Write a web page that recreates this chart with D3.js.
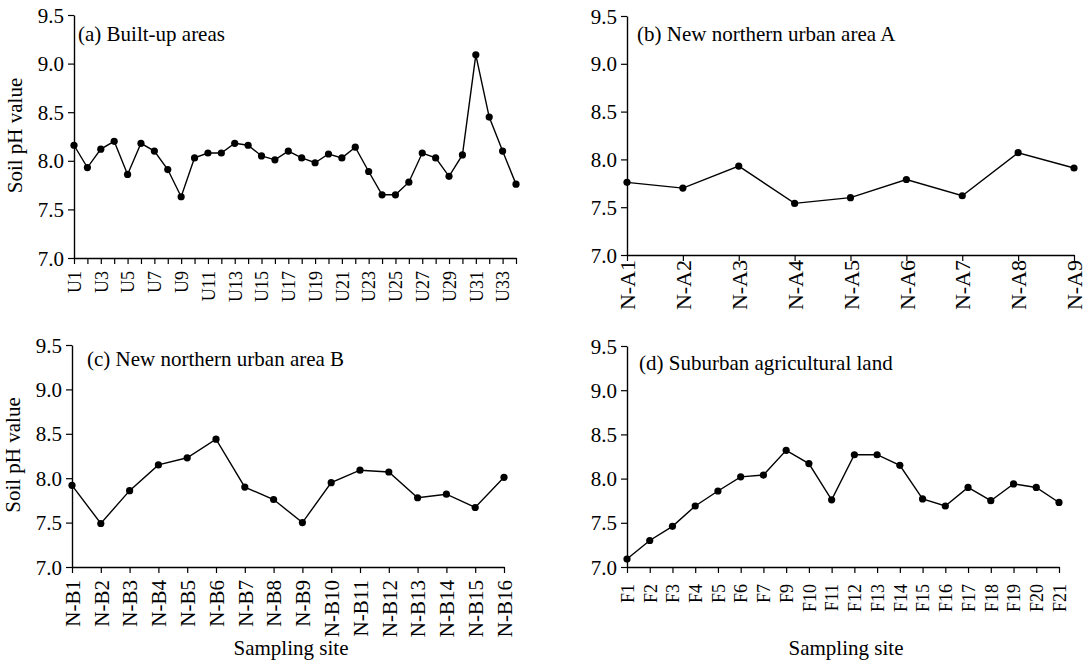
<!DOCTYPE html>
<html>
<head>
<meta charset="utf-8">
<script src="https://cdn.jsdelivr.net/npm/d3@7"></script>
<style>
  body { margin: 0; background: #fff; }
  svg { display: block; }
</style>
</head>
<body>
<svg id="chart" width="1086" height="664"></svg>
<script>
// soil pH by sampling site, four land-use groups
const builtSites = ["U1","U2","U3","U4","U5","U6","U7","U8","U9","U10","U11","U12","U13","U14","U15","U16","U17",
    "U18","U19","U20","U21","U22","U23","U24","U25","U26","U27","U28","U29","U30","U31","U32","U33","U34"];
const builtPH = [8.16,7.93,8.12,8.20,7.86,8.18,8.10,7.91,7.63,8.03,8.08,8.08,8.18,8.16,8.05,8.01,8.10,
    8.03,7.98,8.07,8.03,8.14,7.89,7.65,7.65,7.78,8.08,8.03,7.84,8.06,9.09,8.45,8.10,7.76];

const northASites = ["N-A1","N-A2","N-A3","N-A4","N-A5","N-A6","N-A7","N-A8","N-A9"];
const northAPH = [7.76,7.70,7.93,7.54,7.60,7.79,7.62,8.07,7.91];

const northBSites = ["N-B1","N-B2","N-B3","N-B4","N-B5","N-B6","N-B7","N-B8","N-B9","N-B10","N-B11",
    "N-B12","N-B13","N-B14","N-B15","N-B16"];
const northBPH = [7.92,7.49,7.86,8.15,8.23,8.44,7.90,7.76,7.50,7.95,8.09,8.07,7.78,7.82,7.67,8.01];

const farmSites = ["F1","F2","F3","F4","F5","F6","F7","F9","F10","F11","F12","F13","F14","F15","F16",
    "F17","F18","F19","F20","F21"];
const farmPH = [7.09,7.30,7.46,7.69,7.86,8.02,8.04,8.32,8.17,7.76,8.27,8.27,8.15,7.77,7.69,7.90,7.75,
    7.94,7.90,7.73];

const yTicks = [7.0, 7.5, 8.0, 8.5, 9.0, 9.5];

const FONT = "'Liberation Serif', 'Times New Roman', serif";
const svg = d3.select("#chart");

// layout per panel (pixel boxes)
let panels = [
    { title: "(a) Built-up areas", sites: builtSites, ph: builtPH,
      x0: 74, x1: 516, y0: 15, y1: 258, tx: 78, ty: 41, xFont: 18, xGap: 13, every: 2,
      yLabel: true, xLabel: false },
    { title: "(b) New northern urban area A", sites: northASites, ph: northAPH,
      x0: 627, x1: 1074, y0: 16, y1: 255, tx: 637, ty: 41, xFont: 22, xGap: 5, every: 1,
      yLabel: false, xLabel: false },
    { title: "(c) New northern urban area B", sites: northBSites, ph: northBPH,
      x0: 72, x1: 504, y0: 345, y1: 567, tx: 87, ty: 366, xFont: 21, xGap: 13, every: 1,
      yLabel: true, xLabel: true },
    { title: "(d) Suburban agricultural land", sites: farmSites, ph: farmPH,
      x0: 627, x1: 1059, y0: 346, y1: 567, tx: 639, ty: 370, xFont: 18, xGap: 17, every: 1,
      yLabel: false, xLabel: true }
];

panels.forEach(function(p) {
    let g = svg.append("g");
    let x = d3.scalePoint().domain(p.sites).range([p.x0, p.x1]).padding(0);
    let y = d3.scaleLinear().domain([7.0, 9.5]).range([p.y1, p.y0]);

    // y axis
    let yAxis = g.append("g")
        .attr("transform", "translate(" + p.x0 + ",0)")
        .call(d3.axisLeft(y).tickValues(yTicks).tickFormat(d3.format(".1f")).tickSize(6).tickSizeOuter(0));
    yAxis.selectAll("text")
        .attr("x", -10).attr("dy", "0.34em")
        .style("font-family", FONT).style("font-size", "21px").attr("fill", "#000");

    // x axis
    let xAxis = g.append("g")
        .attr("transform", "translate(0," + p.y1 + ")")
        .call(d3.axisBottom(x).tickSize(6).tickSizeOuter(0)
            .tickFormat((d, i) => i % p.every === 0 ? d : ""));
    xAxis.selectAll("text")
        .attr("x", 0).attr("y", 0).attr("dy", "0.35em")
        .attr("text-anchor", "end")
        .attr("transform", "translate(0," + p.xGap + ") rotate(-90)")
        .style("font-family", FONT).style("font-size", p.xFont + "px").attr("fill", "#000");

    g.selectAll(".domain").attr("stroke", "#000").attr("stroke-width", 1.4);
    g.selectAll(".tick line").attr("stroke", "#000").attr("stroke-width", 1.2);

    // line + dots
    let line = d3.line()
        .x((d, i) => x(p.sites[i]))
        .y(d => y(d));
    g.append("path")
        .datum(p.ph)
        .attr("d", line)
        .attr("fill", "none")
        .attr("stroke", "#000")
        .attr("stroke-width", 1.4);
    g.selectAll("circle")
        .data(p.ph)
        .enter()
        .append("circle")
        .attr("cx", (d, i) => x(p.sites[i]))
        .attr("cy", d => y(d))
        .attr("r", 3.6)
        .attr("fill", "#000");

    // panel title
    g.append("text")
        .attr("x", p.tx).attr("y", p.ty)
        .style("font-family", FONT).style("font-size", "21px")
        .text(p.title);

    if (p.yLabel) {
        g.append("text")
            .attr("transform", "translate(" + (p.x0 - 52) + "," + ((p.y0 + p.y1) / 2 - 1) + ") rotate(-90)")
            .attr("text-anchor", "middle")
            .style("font-family", FONT).style("font-size", "21px")
            .text("Soil pH value");
    }
    if (p.xLabel) {
        g.append("text")
            .attr("x", (p.x0 + p.x1) / 2 + 3)
            .attr("y", 655)
            .attr("text-anchor", "middle")
            .style("font-family", FONT).style("font-size", "21px")
            .text("Sampling site");
    }
});
</script>
</body>
</html>
